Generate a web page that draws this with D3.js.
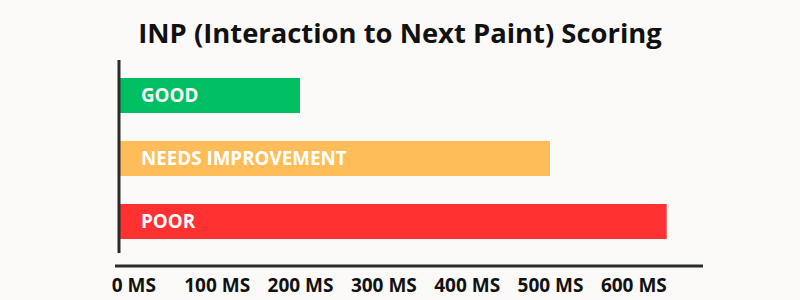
<!DOCTYPE html>
<html>
<head>
<meta charset="utf-8">
<script src="https://cdn.jsdelivr.net/npm/d3@7"></script>
<style>
  html, body { margin: 0; padding: 0; background: #fbfaf8; }
  svg { display: block; }
</style>
</head>
<body>
<svg id="chart" width="800" height="300"></svg>
<script>
// INP score bands (milliseconds)
const categories = ["GOOD", "NEEDS IMPROVEMENT", "POOR"];
const values = [200, 500, 640];
const colors = ["#00bf63", "#ffbd59", "#ff3131"];
const tickValues = [0, 100, 200, 300, 400, 500, 600];
const tickLabels = ["0 MS", "100 MS", "200 MS", "300 MS", "400 MS", "500 MS", "600 MS"];
const title = "INP (Interaction to Next Paint) Scoring";

const svg = d3.select("#chart");
const font = "'Open Sans', 'Noto Sans', sans-serif";

const x = d3.scaleLinear().domain([0, 600]).range([133.33, 633.33]);
const y = d3.scaleBand().domain(categories).range([64, 253])
  .paddingInner(0.444).paddingOuter(0.222);

const axisX0 = 119; // left edge of the bars, at the vertical axis

// title
svg.append("text")
  .attr("x", 400).attr("y", 43)
  .attr("text-anchor", "middle")
  .attr("font-family", font).attr("font-weight", 700)
  .attr("font-size", 27.4).attr("fill", "#111")
  .text(title);

// bars
svg.append("g").selectAll("rect")
  .data(categories)
  .join("rect")
  .attr("x", axisX0)
  .attr("y", d => y(d))
  .attr("width", (d, i) => x(values[i]) - axisX0)
  .attr("height", y.bandwidth())
  .attr("fill", (d, i) => colors[i]);

// bar labels
svg.append("g").selectAll("text")
  .data(categories)
  .join("text")
  .attr("x", axisX0 + 22)
  .attr("y", d => y(d) + y.bandwidth() / 2)
  .attr("dy", "0.36em")
  .attr("font-family", font).attr("font-weight", 700)
  .attr("font-size", 18.8).attr("fill", "#fff")
  .text(d => d);

// vertical axis line
svg.append("line")
  .attr("x1", axisX0).attr("x2", axisX0)
  .attr("y1", 60).attr("y2", 253)
  .attr("stroke", "#2b2b2b").attr("stroke-width", 3);

// bottom axis
const xAxis = d3.axisBottom(x)
  .tickValues(tickValues)
  .tickFormat((d, i) => tickLabels[i])
  .tickSize(0)
  .tickPadding(13);

const gx = svg.append("g")
  .attr("transform", "translate(0,266)")
  .call(xAxis);
gx.select(".domain").remove();
gx.append("line")
  .attr("x1", 115).attr("x2", 703)
  .attr("stroke", "#2b2b2b").attr("stroke-width", 3);
gx.selectAll(".tick text")
  .attr("font-family", font).attr("font-weight", 700)
  .attr("font-size", 19).attr("fill", "#111");
</script>
</body>
</html>
